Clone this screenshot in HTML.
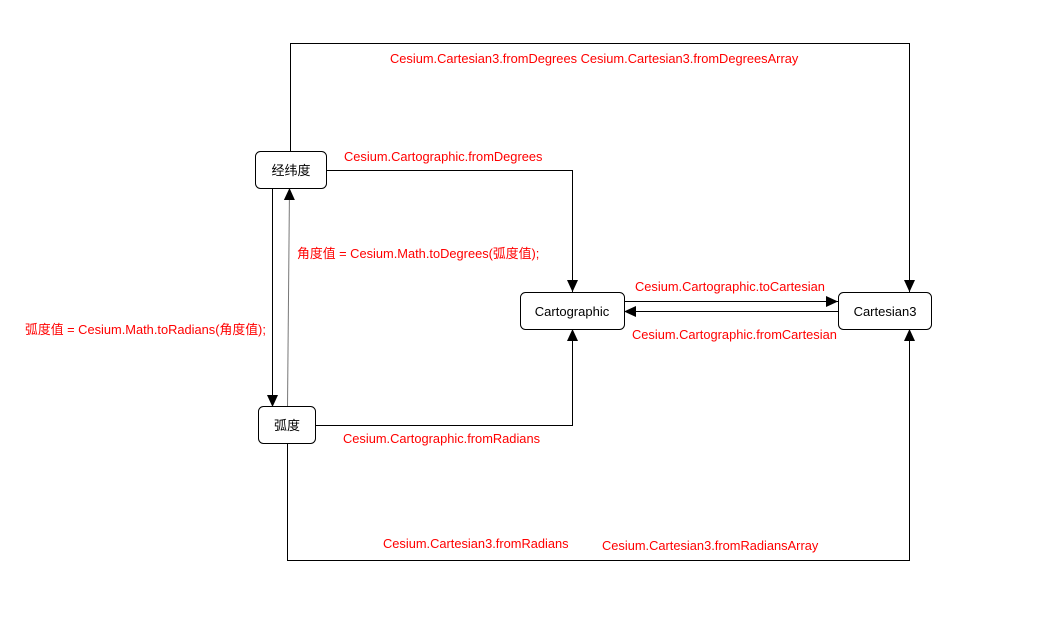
<!DOCTYPE html>
<html><head><meta charset="utf-8"><style>
body{margin:0;background:#fff;width:1049px;height:636px;overflow:hidden}
svg text{font-family:"Liberation Sans","Noto Sans CJK SC",sans-serif;font-size:12.85px}
.r{fill:#f00}
.n{font-size:13px;fill:#000}
</style></head><body>
<svg width="1049" height="636" viewBox="0 0 1049 636" xmlns="http://www.w3.org/2000/svg">
<defs><marker id="a" markerWidth="12" markerHeight="12" refX="12" refY="6" orient="auto" markerUnits="userSpaceOnUse"><path d="M0,0.5L12,6L0,11.5z" fill="#000"/></marker></defs>
<g fill="none" stroke="#000" stroke-width="1">
<polyline points="290.5,151 290.5,43.5 909.5,43.5 909.5,292" marker-end="url(#a)"/>
<polyline points="326,170.5 572.5,170.5 572.5,292" marker-end="url(#a)"/>
<line x1="272.5" y1="188" x2="272.5" y2="407" marker-end="url(#a)"/>
<line x1="287.5" y1="407" x2="289.5" y2="188" stroke="#777" marker-end="url(#a)"/>
<polyline points="315,425.5 572.5,425.5 572.5,329" marker-end="url(#a)"/>
<polyline points="287.5,443 287.5,560.5 909.5,560.5 909.5,329" marker-end="url(#a)"/>
<line x1="624" y1="301.5" x2="838" y2="301.5" marker-end="url(#a)"/>
<line x1="838" y1="311.5" x2="624" y2="311.5" marker-end="url(#a)"/>
</g>
<g fill="#fff" stroke="#000">
<rect x="255.5" y="151.5" width="71" height="37" rx="5"/>
<rect x="258.5" y="406.5" width="57" height="37" rx="5"/>
<rect x="520.5" y="292.5" width="104" height="37" rx="5"/>
<rect x="838.5" y="292.5" width="93" height="37" rx="5"/>
</g>
<text class="n" x="291" y="175" text-anchor="middle">经纬度</text>
<text class="n" x="287" y="430" text-anchor="middle">弧度</text>
<text class="n" x="572" y="316" text-anchor="middle">Cartographic</text>
<text class="n" x="885" y="316" text-anchor="middle">Cartesian3</text>
<text class="r" x="390" y="63">Cesium.Cartesian3.fromDegrees Cesium.Cartesian3.fromDegreesArray</text>
<text class="r" x="344" y="161">Cesium.Cartographic.fromDegrees</text>
<text class="r" x="297" y="258">角度值 = Cesium.Math.toDegrees(弧度值);</text>
<text class="r" x="25" y="334">弧度值 = Cesium.Math.toRadians(角度值);</text>
<text class="r" x="635" y="291">Cesium.Cartographic.toCartesian</text>
<text class="r" x="632" y="339">Cesium.Cartographic.fromCartesian</text>
<text class="r" x="343" y="443">Cesium.Cartographic.fromRadians</text>
<text class="r" x="383" y="548">Cesium.Cartesian3.fromRadians</text>
<text class="r" x="602" y="550">Cesium.Cartesian3.fromRadiansArray</text>
</svg>
</body></html>
